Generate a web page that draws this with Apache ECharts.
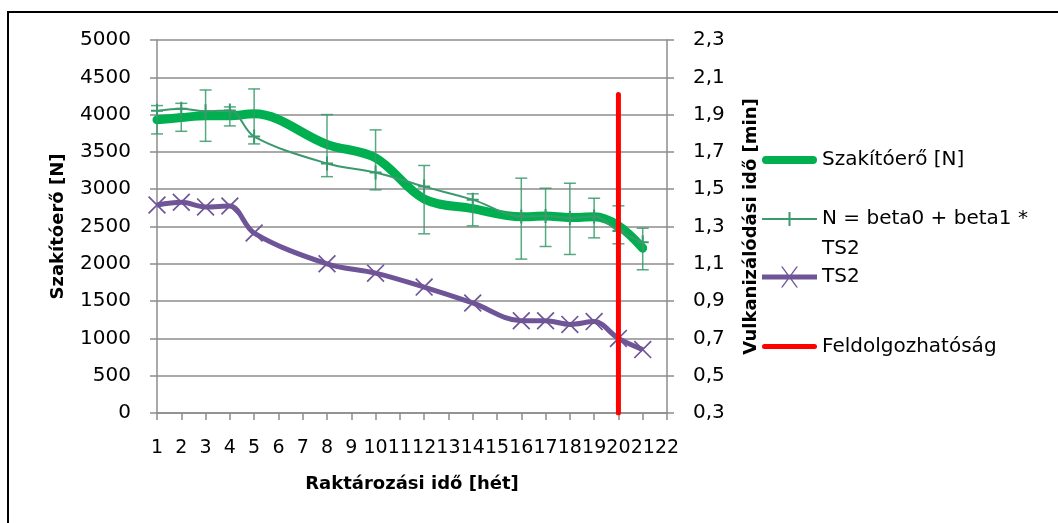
<!DOCTYPE html>
<html>
<head>
<meta charset="utf-8">
<script src="https://cdn.jsdelivr.net/npm/echarts@6/dist/echarts.min.js"></script>
<style>
  html, body { margin: 0; padding: 0; background: #fff; }
  #chart { width: 1058px; height: 523px; }
</style>
</head>
<body>
<div id="chart"></div>
<script>
// x kategoriak: 1..22 het
var categories = [];
for (var k = 1; k <= 22; k++) categories.push(String(k));

// merési hetek
var weeks = [1, 2, 3, 4, 5, 8, 10, 12, 14, 16, 17, 18, 19, 20, 21];
// Szakítóerő [N] (mert)
var force = [3930, 3960, 3985, 3985, 4010, 3600, 3420, 2870, 2740, 2630, 2640, 2620, 2630, 2510, 2210];
// hibasavok also / felso
var forceLow = [3741, 3776, 3642, 3848, 3607, 3168, 2991, 2402, 2509, 2063, 2232, 2125, 2348, 2268, 1920];
var forceHigh = [4121, 4151, 4330, 4103, 4344, 4000, 3795, 3318, 2938, 3148, 3013, 3080, 2879, 2777, 2477];
// N = beta0 + beta1 * TS2 (modell)
var model = [4050, 4080, 4045, 4055, 3705, 3345, 3225, 3035, 2860, 2635, 2640, 2615, 2635, 2440, 2290];
// TS2 [min]
var ts2 = [1.415, 1.43, 1.405, 1.41, 1.265, 1.10, 1.05, 0.975, 0.89, 0.795, 0.795, 0.775, 0.79, 0.70, 0.64];
// Feldolgozhatóság határ
var limitWeek = ['20', '20'];
var limitValue = [0, 4270];

var GREEN = '#00b050';
var TEAL = '#3a9a6c';
var PURPLE = '#6f5597';
var RED = '#ff0000';
var GRID = '#8c8c8c';
var FONT = 'DejaVu Sans';

function pairs(xs, ys) {
  return xs.map(function (x, i) { return [String(x), ys[i]]; });
}

/*********************** hibasav ***********************/
function renderErrorBar(params, api) {
  var x = api.value(0);
  var lo = api.coord([x, api.value(1)]);
  var hi = api.coord([x, api.value(2)]);
  var w = 6;
  var style = { stroke: TEAL, lineWidth: 1.5, opacity: 0.85 };
  return {
    type: 'group',
    children: [
      { type: 'line', shape: { x1: lo[0], y1: lo[1], x2: hi[0], y2: hi[1] }, style: style },
      { type: 'line', shape: { x1: lo[0] - w, y1: lo[1], x2: lo[0] + w, y2: lo[1] }, style: style },
      { type: 'line', shape: { x1: hi[0] - w, y1: hi[1], x2: hi[0] + w, y2: hi[1] }, style: style }
    ]
  };
}

var plusSymbol = 'path://M0,6H12V8H0Z M5,0H7V14H5Z';
var crossSymbol = 'path://M0,1.2L1.2,0L18,16.8L16.8,18Z M16.8,0L18,1.2L1.2,18L0,16.8Z';

function legendBox(name, top, icon, h, fmt) {
  return {
    data: [name],
    left: 762,
    top: top - h / 2,
    padding: 0,
    itemWidth: 55,
    itemHeight: h,
    icon: icon,
    selectedMode: false,
    formatter: fmt || '{name}',
    textStyle: { fontFamily: FONT, fontSize: 20, color: '#000' }
  };
}

var chart = echarts.init(document.getElementById('chart'));
var option = {
  backgroundColor: '#fff',
  animation: false,
  textStyle: { fontFamily: FONT },
  grid: { left: 157, right: 391, top: 40, bottom: 110 },
  legend: [
    legendBox('Szakítóerő [N]', 154, 'path://M4,0H51A4,4 0 0 1 51,8H4A4,4 0 0 1 4,0Z', 8),
    // a nev masodik sora ("TS2") kulon szovegkent van lent
    legendBox('N = beta0 + beta1 * TS2', 216, 'path://M0,6H55V8H0Z M26.5,0H28.5V14H26.5Z', 14, 'N = beta0 + beta1 *'),
    legendBox('TS2', 277, 'path://M0,8H55V13H0Z M19,0L20.6,0L36,21L34.4,21Z M34.4,0L36,0L20.6,21L19,21Z', 21),
    legendBox('Feldolgozhatóság', 339, 'path://M2.5,0H52.5A2.5,2.5 0 0 1 52.5,5H2.5A2.5,2.5 0 0 1 2.5,0Z', 5)
  ],
  xAxis: {
    type: 'category',
    data: categories,
    boundaryGap: false,
    name: 'Raktározási idő [hét]',
    nameLocation: 'middle',
    nameGap: 62,
    nameTextStyle: { fontFamily: FONT, fontSize: 18, fontWeight: 'bold', color: '#000' },
    axisLine: { lineStyle: { color: GRID, width: 1.5 } },
    axisTick: { interval: 0, length: 7, lineStyle: { color: GRID, width: 1.5 } },
    axisLabel: { interval: 0, margin: 26, fontFamily: FONT, fontSize: 19, color: '#000' }
  },
  yAxis: [
    {
      type: 'value',
      min: 0,
      max: 5000,
      interval: 500,
      name: 'Szakítóerő [N]',
      nameLocation: 'middle',
      nameGap: 90,
      nameTextStyle: { fontFamily: FONT, fontSize: 18, fontWeight: 'bold', color: '#000' },
      axisLine: { show: true, lineStyle: { color: GRID, width: 1.5 } },
      axisTick: { show: true, length: 7, lineStyle: { color: GRID, width: 1.5 } },
      axisLabel: {
        margin: 26, fontFamily: FONT, fontSize: 20, color: '#000',
        formatter: function (v) { return String(v); }
      },
      splitLine: { lineStyle: { color: GRID, width: 1.5 } }
    },
    {
      type: 'value',
      position: 'right',
      min: 0.3,
      max: 2.3,
      interval: 0.2,
      name: 'Vulkanizálódási idő [min]',
      nameLocation: 'middle',
      nameGap: 75,
      nameTextStyle: { fontFamily: FONT, fontSize: 18, fontWeight: 'bold', color: '#000' },
      axisLine: { show: true, lineStyle: { color: GRID, width: 1.5 } },
      axisTick: { show: true, length: 7, lineStyle: { color: GRID, width: 1.5 } },
      axisLabel: {
        margin: 26, fontFamily: FONT, fontSize: 20, color: '#000',
        formatter: function (v) { return v.toFixed(1).replace('.', ','); }
      },
      splitLine: { show: false }
    }
  ],
  series: [
    {
      name: 'Szakítóerő [N]',
      type: 'line',
      data: pairs(weeks, force),
      smooth: 0.35,
      symbol: 'none',
      color: GREEN,
      lineStyle: { color: GREEN, width: 9, cap: 'round', join: 'round' },
      z: 2
    },
    {
      name: 'hibasav',
      type: 'custom',
      data: weeks.map(function (w, i) { return [String(w), forceLow[i], forceHigh[i]]; }),
      encode: { x: 0, y: [1, 2] },
      renderItem: renderErrorBar,
      z: 3
    },
    {
      name: 'N = beta0 + beta1 * TS2',
      type: 'line',
      data: pairs(weeks, model),
      smooth: 0.35,
      symbol: plusSymbol,
      symbolSize: [12, 14],
      color: TEAL,
      itemStyle: { color: TEAL },
      lineStyle: { color: TEAL, width: 2 },
      z: 4
    },
    {
      name: 'TS2',
      type: 'line',
      yAxisIndex: 1,
      data: pairs(weeks, ts2),
      smooth: 0.35,
      symbol: crossSymbol,
      symbolSize: 18,
      color: PURPLE,
      itemStyle: { color: PURPLE },
      lineStyle: { color: PURPLE, width: 5 },
      z: 4
    },
    {
      name: 'Feldolgozhatóság',
      type: 'line',
      data: limitWeek.map(function (w, i) { return [w, limitValue[i]]; }),
      symbol: 'none',
      color: RED,
      lineStyle: { color: RED, width: 5, cap: 'round' },
      z: 6
    }
  ],
  graphic: [
    {
      type: 'rect',
      shape: { x: 8, y: 12, width: 1200, height: 700 },
      style: { fill: 'none', stroke: '#000', lineWidth: 2 },
      silent: true
    },
    {
      type: 'text',
      left: 822,
      top: 239,
      style: { text: 'TS2', fontFamily: FONT, fontSize: 20, fill: '#000' }
    }
  ]
};
chart.setOption(option);
</script>
</body>
</html>
